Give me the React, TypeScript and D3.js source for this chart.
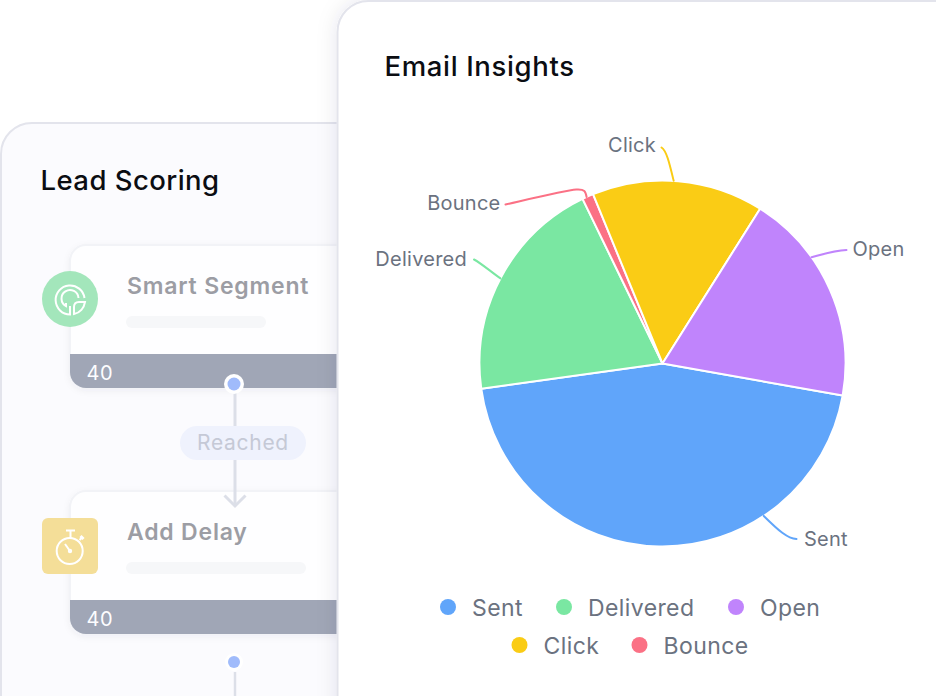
import React from "react";
import * as d3 from "d3";

const categories = ["Sent", "Delivered", "Open", "Click", "Bounce"];
const sliceValues = [45, 20, 18.85, 15.15, 1];
const sliceColors = ["#60a5fa", "#7ae7a2", "#c084fc", "#facc15", "#fb7185"];
const drawOrder = ["Sent", "Delivered", "Bounce", "Click", "Open"];
const legendRows = [["Sent", "Delivered", "Open"], ["Click", "Bounce"]];
const flowSteps = ["Smart Segment", "Add Delay"];
const flowCounts = ["40", "40"];

const FONT = "Inter, 'Noto Sans', sans-serif";
const W = 936, H = 696;
const cx = 662.5, cy = 363.5, R = 183;
const startDeg = 100.1;

// leader geometry relative to the pie centre: attachment angle on the rim, control point, end, label
const leaderLayout: Record<string, { deg: number; c1: number[]; c2: number[]; end: number[]; anchor: string; t: number[] }> = {
  Sent: { deg: 146.4, c1: [116, 167], c2: [125, 175], end: [134, 175.5], anchor: "start", t: [141.5, 182.5] },
  Delivered: { deg: 297.7, c1: [-172, -92], c2: [-181, -100], end: [-188.5, -104], anchor: "end", t: [-195.5, -98] },
  Open: { deg: 54.5, c1: [163, -110], c2: [172, -113], end: [184, -113.5], anchor: "start", t: [190, -108] },
  Click: { deg: 3.5, c1: [7, -200], c2: [4, -213], end: [-1, -216], anchor: "end", t: [-6.5, -212] },
  Bounce: { deg: 335.5, c1: [-78, -178], c2: [-79, -177], end: [-157, -159], anchor: "end", t: [-162, -154] },
};

const legendAdvance: Record<string, number> = { Sent: 116, Delivered: 172, Open: 92, Click: 120, Bounce: 117 };
const byName = (n: string) => categories.indexOf(n);

export default function App() {
  const pie = d3
    .pie<string>()
    .value((d) => sliceValues[byName(d)])
    .sort(null)
    .startAngle((startDeg * Math.PI) / 180)
    .endAngle(((startDeg + 360) * Math.PI) / 180);
  const slices = pie(drawOrder);
  const arc = d3.arc<d3.PieArcDatum<string>>().innerRadius(0).outerRadius(R);
  const y0 = 608;
  const legendCentre = 630;

  return (
    <svg width={W} height={H} viewBox={`0 0 ${W} ${H}`} style={{ position: "absolute", left: 0, top: 0, fontFamily: FONT, fontOpticalSizing: "none" } as React.CSSProperties}>
      <defs>
        <filter id="cardShadow" x="-20%" y="-20%" width="140%" height="140%">
          <feDropShadow dx="0" dy="0" stdDeviation="10" floodColor="#1f2a44" floodOpacity="0.10" />
        </filter>
        <filter id="smallShadow" x="-10%" y="-10%" width="120%" height="120%">
          <feDropShadow dx="0" dy="2" stdDeviation="3" floodColor="#1f2a44" floodOpacity="0.05" />
        </filter>
        <clipPath id="c1"><rect x={70} y={245} width={300} height={143} rx={16} /></clipPath>
        <clipPath id="c2"><rect x={70} y={491} width={300} height={143} rx={16} /></clipPath>
      </defs>
      <rect width={W} height={H} fill="#fff" />

      {/* Lead Scoring card */}
      <rect x={1} y={123} width={500} height={640} rx={31} fill="#fbfbfe" stroke="#e3e4ec" strokeWidth={2} />
      <text x={40.5} y={190} fontSize={27.5} letterSpacing={0.45} fontWeight={550} fill="#0b0d12">Lead Scoring</text>

      {flowSteps.map((name, i) => {
        const top = i === 0 ? 245 : 491;
        return (
          <g key={name}>
            <rect x={70} y={top} width={300} height={143} rx={16} fill="#fefeff" stroke="#f2f3f7" strokeWidth={2} filter="url(#smallShadow)" />
            <rect x={70} y={top + 109} width={300} height={34} fill="#a0a6b6" clipPath={`url(#c${i + 1})`} />
            <text x={127} y={top + 49} fontSize={23} letterSpacing={0.8} fontWeight={600} fill="#9c9da4">{name}</text>
            <rect x={126} y={top + 71} width={i === 0 ? 140 : 180} height={12} rx={6} fill="#f6f7f9" />
            <text x={86.5} y={top + 135} fontSize={20} letterSpacing={0.5} fill="#fdfdff">{flowCounts[i]}</text>
          </g>
        );
      })}

      {/* connector */}
      <line x1={235} x2={235} y1={392} y2={505} stroke="#dcdfe8" strokeWidth={3} />
      <path d="M224.5 495.5 L235 506 L245.5 495.5" fill="none" stroke="#dcdfe8" strokeWidth={3} />
      <rect x={180} y={426} width={126} height={34} rx={17} fill="#eff2fd" />
      <text x={243} y={450} textAnchor="middle" fontSize={21} letterSpacing={0.7} fill="#c5c9d6">Reached</text>
      <circle cx={234} cy={384} r={10} fill="#fff" />
      <circle cx={234} cy={384} r={6.5} fill="#a0bbfb" />
      <circle cx={234} cy={662} r={9} fill="#fff" />
      <circle cx={234} cy={662} r={6} fill="#a0bbfb" />
      <line x1={235} x2={235} y1={672} y2={696} stroke="#dcdfe8" strokeWidth={2.5} />

      {/* Smart segment icon */}
      <circle cx={70} cy={299} r={28} fill="#a3e6bb" />
      <g fill="none" stroke="#fff" strokeWidth={2}>
        <path d="M84.5 298 A14.5 14.5 0 1 0 70 314.5 V306" />
        <path d="M78.5 298 A8.5 8.5 0 1 0 66 306 V303" />
        <path d="M74 314 C80 313 84 308 85 302 L79 302 C75.5 302 74 304 74 307 Z" />
      </g>

      {/* Delay icon */}
      <rect x={42} y={518} width={56} height={56} rx={6} fill="#f4de98" />
      <g fill="none" stroke="#fff" strokeWidth={2}>
        <circle cx={69.7} cy={551} r={13} />
        <path d="M70.5 538 V531 M66 530.5 H75" />
        <path d="M79.5 540 L82 537.5" />
        <path d="M80.5 536 L83.5 539" strokeWidth={3} />
        <path d="M65 544 L70 551" />
      </g>
      <circle cx={70} cy={551} r={2.2} fill="#fff" />

      {/* Email Insights card */}
      <rect x={337.5} y={1} width={700} height={800} rx={31} fill="#fff" stroke="#e3e4ec" strokeWidth={2} filter="url(#cardShadow)" />
      <text x={384.5} y={76} fontSize={27.5} letterSpacing={0.65} fontWeight={550} fill="#0b0d12">Email Insights</text>

      <g transform={`translate(${cx},${cy})`}>
        {slices.map((s) => (
          <path key={s.data} d={arc(s) ?? ""} fill={sliceColors[byName(s.data)]} stroke="#fff" strokeWidth={2} strokeLinejoin="round" />
        ))}
        {slices.map((s) => {
          const l = leaderLayout[s.data];
          const a = (l.deg * Math.PI) / 180 - Math.PI / 2;
          const path = d3.path();
          path.moveTo(Math.cos(a) * R, Math.sin(a) * R);
          path.bezierCurveTo(l.c1[0], l.c1[1], l.c2[0], l.c2[1], l.end[0], l.end[1]);
          return (
            <g key={s.data}>
              <path d={path.toString()} fill="none" stroke={sliceColors[byName(s.data)]} strokeWidth={2} strokeLinecap="round" />
              <text x={l.t[0]} y={l.t[1]} textAnchor={l.anchor} fontSize={20} letterSpacing={0.25} fill="#6b7280">{s.data}</text>
            </g>
          );
        })}
      </g>

      {legendRows.map((row, ri) => {
        const total = d3.sum(row, (n) => legendAdvance[n]);
        let x = legendCentre - total / 2;
        return row.map((n) => {
          const start = x;
          x += legendAdvance[n];
          return (
            <g key={n}>
              <circle cx={start + 8} cy={y0 - 1 + ri * 38} r={8} fill={sliceColors[byName(n)]} />
              <text x={start + 32} y={y0 + 8 + ri * 38} fontSize={23} letterSpacing={0.4} fill="#6b7280">{n}</text>
            </g>
          );
        });
      })}
    </svg>
  );
}
